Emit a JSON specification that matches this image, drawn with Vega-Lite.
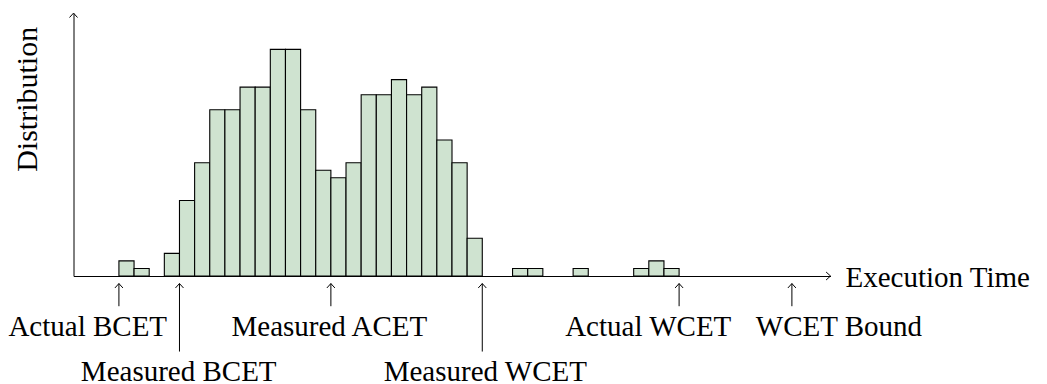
{
  "$schema": "https://vega.github.io/schema/vega-lite/v6.json",
  "width": 757,
  "height": 262.9,
  "autosize": {"type": "none"},
  "padding": {"left": 73.5, "top": 13.1, "right": 216.5, "bottom": 108},
  "background": "white",
  "config": {"view": {"stroke": null}},
  "datasets": {
    "hist": [
      {"bin_start": 0, "bin_end": 1, "count": 2},
      {"bin_start": 1, "bin_end": 2, "count": 1},
      {"bin_start": 3, "bin_end": 4, "count": 3},
      {"bin_start": 4, "bin_end": 5, "count": 10},
      {"bin_start": 5, "bin_end": 6, "count": 15},
      {"bin_start": 6, "bin_end": 7, "count": 22},
      {"bin_start": 7, "bin_end": 8, "count": 22},
      {"bin_start": 8, "bin_end": 9, "count": 25},
      {"bin_start": 9, "bin_end": 10, "count": 25},
      {"bin_start": 10, "bin_end": 11, "count": 30},
      {"bin_start": 11, "bin_end": 12, "count": 30},
      {"bin_start": 12, "bin_end": 13, "count": 22},
      {"bin_start": 13, "bin_end": 14, "count": 14},
      {"bin_start": 14, "bin_end": 15, "count": 13},
      {"bin_start": 15, "bin_end": 16, "count": 15},
      {"bin_start": 16, "bin_end": 17, "count": 24},
      {"bin_start": 17, "bin_end": 18, "count": 24},
      {"bin_start": 18, "bin_end": 19, "count": 26},
      {"bin_start": 19, "bin_end": 20, "count": 24},
      {"bin_start": 20, "bin_end": 21, "count": 25},
      {"bin_start": 21, "bin_end": 22, "count": 18},
      {"bin_start": 22, "bin_end": 23, "count": 15},
      {"bin_start": 23, "bin_end": 24, "count": 5},
      {"bin_start": 26, "bin_end": 27, "count": 1},
      {"bin_start": 27, "bin_end": 28, "count": 1},
      {"bin_start": 30, "bin_end": 31, "count": 1},
      {"bin_start": 34, "bin_end": 35, "count": 1},
      {"bin_start": 35, "bin_end": 36, "count": 2},
      {"bin_start": 36, "bin_end": 37, "count": 1}
    ],
    "annot": [
      {"label": "Actual BCET", "at": 0, "tip": -1, "tail": -4, "label_at": -2.06, "label_y": -8},
      {"label": "Measured BCET", "at": 4, "tip": -1, "tail": -10, "label_at": 3.95, "label_y": -13.85},
      {"label": "Measured ACET", "at": 14, "tip": -1, "tail": -4, "label_at": 13.9, "label_y": -8},
      {"label": "Measured WCET", "at": 24, "tip": -1, "tail": -10, "label_at": 24.2, "label_y": -13.85},
      {"label": "Actual WCET", "at": 37, "tip": -1, "tail": -4, "label_at": 34.96, "label_y": -8},
      {"label": "WCET Bound", "at": 44.45, "tip": -1, "tail": -4, "label_at": 47.56, "label_y": -8}
    ],
    "axisends": [
      {"x": 47, "y": 0, "dir": "right"},
      {"x": -3, "y": 34.8, "dir": "up"}
    ]
  },
  "layer": [
    {
      "data": {"name": "hist"},
      "mark": {"type": "rect", "fill": "#cfe3d0", "stroke": "#000", "strokeWidth": 1.1},
      "encoding": {
        "x": {
          "field": "bin_start", "type": "quantitative",
          "scale": {"domain": [-3, 47], "nice": false, "zero": false},
          "axis": {
            "title": "Execution Time", "ticks": false, "labels": false, "grid": false,
            "domainColor": "#000", "domainWidth": 1,
            "titleFont": "Liberation Serif", "titleFontSize": 29, "titleFontWeight": "normal",
            "titleColor": "#000", "titleAngle": 0, "titleAlign": "left", "titleBaseline": "alphabetic",
            "titleX": 771.5, "titleY": 10.5
          }
        },
        "x2": {"field": "bin_end"},
        "y": {
          "field": "count", "type": "quantitative",
          "scale": {"domain": [0, 34.8], "nice": false},
          "axis": {
            "title": "Distribution", "ticks": false, "labels": false, "grid": false,
            "domainColor": "#000", "domainWidth": 1,
            "titleFont": "Liberation Serif", "titleFontSize": 30, "titleFontWeight": "normal",
            "titleColor": "#000", "titleAngle": 270, "titleAlign": "center", "titleBaseline": "alphabetic",
            "titleX": -37, "titleY": 85.7
          }
        },
        "y2": {"datum": 0}
      }
    },
    {
      "data": {"name": "annot"},
      "mark": {"type": "rule", "stroke": "#000", "strokeWidth": 1},
      "encoding": {
        "x": {"field": "at", "type": "quantitative"},
        "y": {"field": "tip", "type": "quantitative"},
        "y2": {"field": "tail"}
      }
    },
    {
      "data": {"name": "annot"},
      "mark": {"type": "point", "shape": "M-1,1.1L0,0L1,1.1", "size": 64, "filled": false, "stroke": "#000", "strokeWidth": 1, "opacity": 1},
      "encoding": {
        "x": {"field": "at", "type": "quantitative"},
        "y": {"field": "tip", "type": "quantitative"}
      }
    },
    {
      "data": {"name": "annot"},
      "mark": {"type": "text", "font": "Liberation Serif", "fontSize": 29, "align": "center", "baseline": "alphabetic", "color": "#000"},
      "encoding": {
        "x": {"field": "label_at", "type": "quantitative"},
        "y": {"field": "label_y", "type": "quantitative"},
        "text": {"field": "label"}
      }
    },
    {
      "data": {"name": "axisends"},
      "transform": [{"filter": "datum.dir === 'right'"}],
      "mark": {"type": "point", "shape": "M-1,1.1L0,0L1,1.1", "size": 64, "filled": false, "stroke": "#000", "strokeWidth": 1, "opacity": 1, "angle": 90},
      "encoding": {
        "x": {"field": "x", "type": "quantitative"},
        "y": {"field": "y", "type": "quantitative"}
      }
    },
    {
      "data": {"name": "axisends"},
      "transform": [{"filter": "datum.dir === 'up'"}],
      "mark": {"type": "point", "shape": "M-1,1.1L0,0L1,1.1", "size": 64, "filled": false, "stroke": "#000", "strokeWidth": 1, "opacity": 1},
      "encoding": {
        "x": {"field": "x", "type": "quantitative"},
        "y": {"field": "y", "type": "quantitative"}
      }
    }
  ]
}
